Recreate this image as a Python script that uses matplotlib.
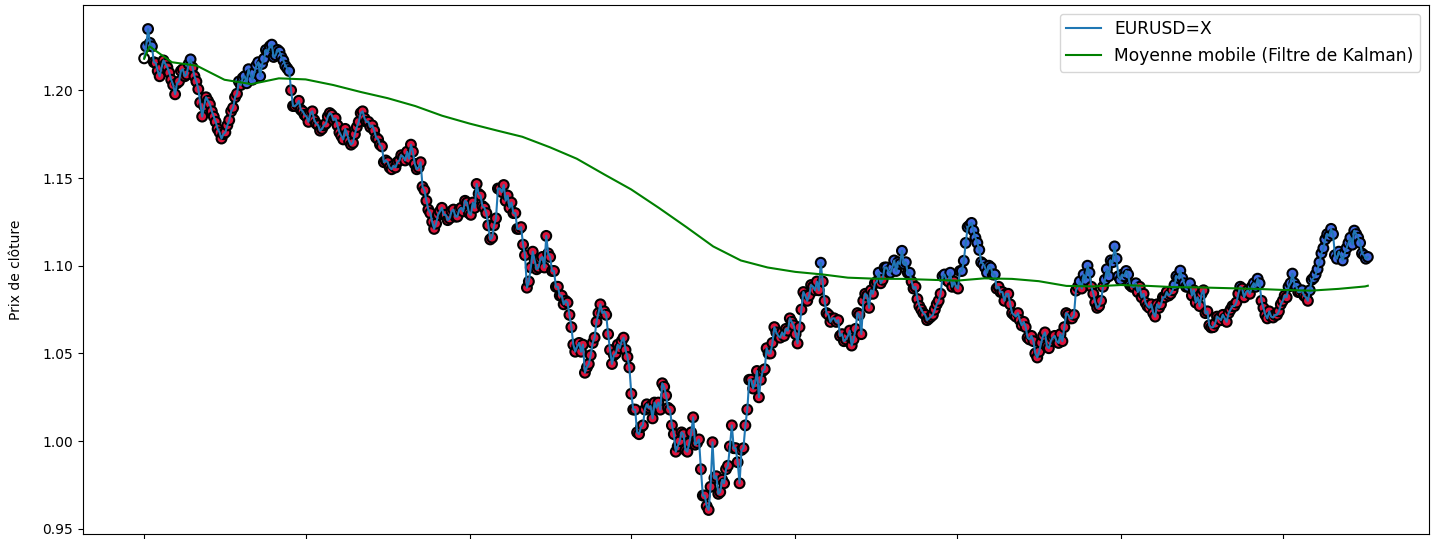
import numpy as np
import pandas as pd
import matplotlib
matplotlib.use('Agg')
import matplotlib.pyplot as plt

# EURUSD=X closes, 14 readings per month
close_2021 = [
    1.2182, 1.2250, 1.2349, 1.2270, 1.2250, 1.2160, 1.2155, 1.2110, 1.2080, 1.2130, 1.2170, 1.2150, 1.2130, 1.2100,  # jan
    1.2060, 1.2030, 1.1977, 1.2040, 1.2050, 1.2110, 1.2120, 1.2080, 1.2090, 1.2150, 1.2176, 1.2130, 1.2080, 1.2050,  # feb
    1.2006, 1.1930, 1.1850, 1.1910, 1.1960, 1.1940, 1.1920, 1.1880, 1.1850, 1.1820, 1.1780, 1.1760, 1.1725, 1.1750,  # mar
    1.1760, 1.1800, 1.1830, 1.1880, 1.1900, 1.1960, 1.1980, 1.2050, 1.2030, 1.2070, 1.2080, 1.2040, 1.2120, 1.2090,  # apr
    1.2060, 1.2100, 1.2140, 1.2160, 1.2080, 1.2150, 1.2180, 1.2230, 1.2220, 1.2250, 1.2260, 1.2190, 1.2200, 1.2230,  # may
    1.2220, 1.2190, 1.2170, 1.2140, 1.2125, 1.2110, 1.2000, 1.1910, 1.1910, 1.1920, 1.1940, 1.1890, 1.1880, 1.1860,  # jun
    1.1850, 1.1820, 1.1870, 1.1880, 1.1830, 1.1810, 1.1800, 1.1770, 1.1780, 1.1800, 1.1810, 1.1850, 1.1870, 1.1860,  # jul
    1.1830, 1.1840, 1.1800, 1.1760, 1.1740, 1.1720, 1.1780, 1.1750, 1.1710, 1.1690, 1.1700, 1.1750, 1.1790, 1.1820,  # aug
    1.1870, 1.1880, 1.1840, 1.1820, 1.1820, 1.1790, 1.1800, 1.1770, 1.1730, 1.1720, 1.1690, 1.1680, 1.1590, 1.1600,  # sep
    1.1590, 1.1560, 1.1550, 1.1570, 1.1560, 1.1590, 1.1600, 1.1630, 1.1620, 1.1600, 1.1650, 1.1610, 1.1690, 1.1650,  # oct
    1.1580, 1.1550, 1.1560, 1.1590, 1.1450, 1.1430, 1.1370, 1.1320, 1.1300, 1.1250, 1.1210, 1.1240, 1.1290, 1.1310,  # nov
    1.1330, 1.1290, 1.1290, 1.1260, 1.1270, 1.1310, 1.1320, 1.1280, 1.1280, 1.1320, 1.1330, 1.1310, 1.1370, 1.1360,  # dec
]
close_2022 = [
    1.1300, 1.1290, 1.1360, 1.1330, 1.1466, 1.1410, 1.1400, 1.1340, 1.1330, 1.1300, 1.1230, 1.1150, 1.1160, 1.1230,
    1.1270, 1.1440, 1.1440, 1.1420, 1.1460, 1.1370, 1.1400, 1.1330, 1.1360, 1.1300, 1.1300, 1.1210, 1.1210, 1.1220,
    1.1120, 1.1060, 1.0875, 1.0910, 1.0990, 1.1080, 1.1030, 1.0980, 1.0990, 1.1040, 1.1050, 1.0990, 1.1170, 1.1070,
    1.1050, 1.0970, 1.0970, 1.0880, 1.0880, 1.0830, 1.0830, 1.0780, 1.0800, 1.0790, 1.0720, 1.0650, 1.0550, 1.0510,
    1.0540, 1.0560, 1.0510, 1.0550, 1.0390, 1.0420, 1.0440, 1.0490, 1.0560, 1.0590, 1.0680, 1.0730, 1.0780, 1.0730,
    1.0740, 1.0720, 1.0610, 1.0520, 1.0440, 1.0490, 1.0500, 1.0550, 1.0530, 1.0570, 1.0590, 1.0520, 1.0480, 1.0420,
    1.0270, 1.0180, 1.0180, 1.0050, 1.0040, 1.0080, 1.0090, 1.0180, 1.0210, 1.0190, 1.0200, 1.0130, 1.0220, 1.0190,
    1.0220, 1.0180, 1.0330, 1.0310, 1.0260, 1.0190, 1.0180, 1.0090, 1.0040, 0.9940, 0.9970, 1.0000, 1.0050, 1.0040,
    0.9950, 0.9940, 0.9990, 1.0050, 1.0136, 0.9980, 0.9990, 1.0010, 0.9840, 0.9690, 0.9690, 0.9630, 0.9608, 0.9740,
    0.9994, 0.9790, 0.9800, 0.9700, 0.9710, 0.9780, 0.9760, 0.9840, 0.9860, 0.9970, 1.0090, 0.9960, 0.9960, 0.9880,
    0.9760, 0.9950, 0.9960, 1.0090, 1.0180, 1.0350, 1.0350, 1.0300, 1.0330, 1.0400, 1.0250, 1.0350, 1.0400, 1.0410,
    1.0530, 1.0500, 1.0500, 1.0560, 1.0650, 1.0620, 1.0600, 1.0590, 1.0620, 1.0600, 1.0640, 1.0630, 1.0700, 1.0680,
]
close_2023 = [
    1.0660, 1.0610, 1.0557, 1.0650, 1.0750, 1.0850, 1.0830, 1.0800, 1.0830, 1.0890, 1.0880, 1.0860, 1.0910, 1.0860,
    1.1017, 1.0910, 1.0800, 1.0730, 1.0720, 1.0680, 1.0700, 1.0700, 1.0680, 1.0690, 1.0600, 1.0610, 1.0570, 1.0580,
    1.0600, 1.0630, 1.0545, 1.0580, 1.0640, 1.0730, 1.0720, 1.0610, 1.0800, 1.0840, 1.0830, 1.0760, 1.0860, 1.0840,
    1.0900, 1.0910, 1.0960, 1.0900, 1.0920, 1.0990, 1.0990, 1.0970, 1.0960, 1.0990, 1.1030, 1.0970, 1.1020, 1.1010,
    1.1085, 1.1010, 1.1020, 1.0960, 1.0960, 1.0910, 1.0870, 1.0880, 1.0810, 1.0770, 1.0750, 1.0730, 1.0720, 1.0690,
    1.0700, 1.0710, 1.0720, 1.0750, 1.0780, 1.0800, 1.0840, 1.0940, 1.0950, 1.0920, 1.0910, 1.0960, 1.0880, 1.0910,
    1.0880, 1.0870, 1.0970, 1.0970, 1.1028, 1.1130, 1.1220, 1.1230, 1.1244, 1.1200, 1.1160, 1.1130, 1.1090, 1.1020,
    1.1010, 1.0990, 1.0960, 1.1000, 1.0990, 1.0950, 1.0950, 1.0870, 1.0880, 1.0850, 1.0850, 1.0800, 1.0840, 1.0840,
    1.0780, 1.0730, 1.0720, 1.0710, 1.0730, 1.0690, 1.0660, 1.0680, 1.0650, 1.0590, 1.0580, 1.0600, 1.0570, 1.0500,
    1.0477, 1.0510, 1.0560, 1.0600, 1.0620, 1.0540, 1.0530, 1.0570, 1.0590, 1.0600, 1.0570, 1.0560, 1.0610, 1.0570,
    1.0650, 1.0730, 1.0720, 1.0700, 1.0700, 1.0720, 1.0858, 1.0880, 1.0910, 1.0870, 1.0950, 1.0920, 1.1000, 1.0960,
    1.0880, 1.0840, 1.0790, 1.0760, 1.0770, 1.0800, 1.0880, 1.0920, 1.0980, 1.0940, 1.1030, 1.1020, 1.1110, 1.1040,
]
close_2024 = [
    1.0940, 1.0920, 1.0950, 1.0940, 1.0970, 1.0950, 1.0890, 1.0880, 1.0880, 1.0900, 1.0850, 1.0880, 1.0820, 1.0840,
    1.0790, 1.0770, 1.0760, 1.0780, 1.0730, 1.0710, 1.0780, 1.0760, 1.0780, 1.0820, 1.0820, 1.0850, 1.0830, 1.0840,
    1.0860, 1.0890, 1.0940, 1.0930, 1.0972, 1.0930, 1.0900, 1.0880, 1.0880, 1.0900, 1.0830, 1.0860, 1.0790, 1.0820,
    1.0770, 1.0840, 1.0860, 1.0730, 1.0740, 1.0660, 1.0648, 1.0650, 1.0670, 1.0710, 1.0700, 1.0690, 1.0720, 1.0700,
    1.0680, 1.0730, 1.0750, 1.0770, 1.0770, 1.0790, 1.0840, 1.0880, 1.0870, 1.0820, 1.0850, 1.0860, 1.0840, 1.0880,
    1.0900, 1.0880, 1.0926, 1.0900, 1.0800, 1.0760, 1.0720, 1.0700, 1.0740, 1.0710, 1.0705, 1.0720, 1.0720, 1.0740,
    1.0780, 1.0800, 1.0830, 1.0820, 1.0880, 1.0900, 1.0955, 1.0900, 1.0880, 1.0850, 1.0850, 1.0860, 1.0830, 1.0820,
    1.0800, 1.0860, 1.0920, 1.0930, 1.0950, 1.0980, 1.1020, 1.1070, 1.1100, 1.1150, 1.1180, 1.1170, 1.1210, 1.1180,
    1.1060, 1.1040, 1.1080, 1.1060, 1.1030, 1.1070, 1.1100, 1.1130, 1.1160, 1.1120, 1.1200, 1.1180, 1.1160, 1.1130,
    1.1070, 1.1060, 1.1040, 1.1050,
]

close = np.array(close_2021 + close_2022 + close_2023 + close_2024)
dates = pd.date_range('2021-01-01', '2024-10-04', periods=len(close))

# Kalman filter output, sampled at month starts
kalman_dates = (pd.to_datetime(['2021-01-01', '2021-01-07'])
                .append(pd.date_range('2021-02-01', '2024-10-01', freq='MS'))
                .append(pd.to_datetime(['2024-10-04'])))
kalman = [
    1.2180, 1.2250,
    1.2160, 1.2140, 1.2060, 1.2035, 1.2068, 1.2062, 1.2030, 1.1990, 1.1955, 1.1910, 1.1855,
    1.1810, 1.1770, 1.1735, 1.1675, 1.1610, 1.1520, 1.1435, 1.1330, 1.1220, 1.1110, 1.1030, 1.0990,
    1.0965, 1.0950, 1.0932, 1.0926, 1.0925, 1.0920, 1.0915, 1.0928, 1.0925, 1.0912, 1.0885, 1.0882,
    1.0890, 1.0885, 1.0878, 1.0876, 1.0872, 1.0868, 1.0862, 1.0858, 1.0868, 1.0882,
    1.0886,
]

# blue above the moving average, red below
k_at = np.interp(dates.asi8, kalman_dates.asi8, kalman)
colors = np.where(close > k_at, 'royalblue', 'crimson').astype(object)
colors[0] = 'white'

fig = plt.figure(figsize=(14.35, 5.39), dpi=100)
ax = fig.add_axes([83 / 1435, 5 / 539, 1346 / 1435, 529 / 539])

ax.scatter(dates, close, c=list(colors), edgecolors='black', s=50, linewidths=1.5, zorder=2)
ax.plot(dates, close, color='C0', lw=1.5, label='EURUSD=X', zorder=3)
ax.plot(kalman_dates, kalman, color='green', lw=1.5,
        label='Moyenne mobile (Filtre de Kalman)', zorder=4)

ax.set_ylabel('Prix de clôture', labelpad=14)
ax.legend(loc='upper right', fontsize=12.3)

fig.savefig('out.png', dpi=100)
